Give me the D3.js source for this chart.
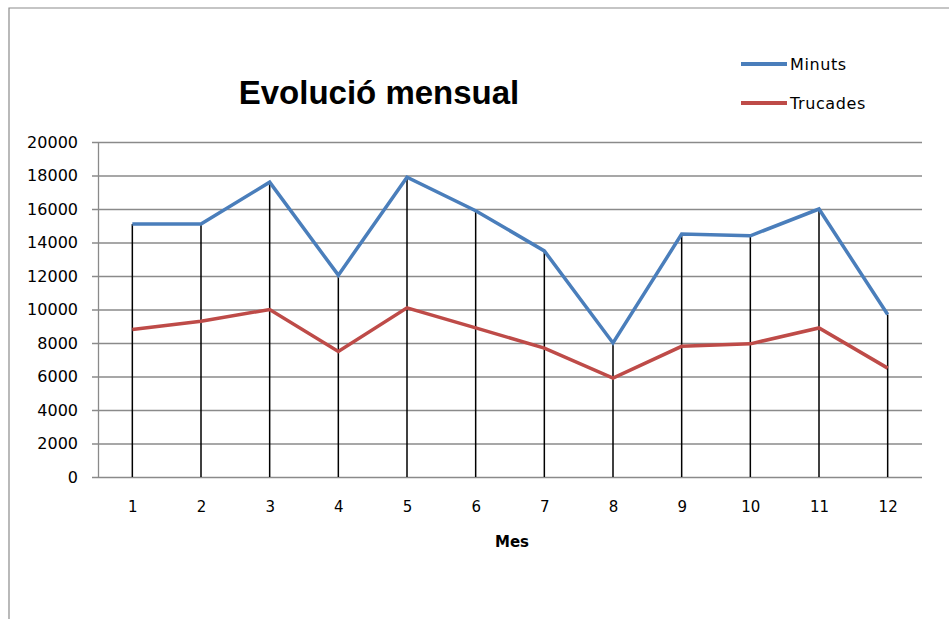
<!DOCTYPE html>
<html>
<head>
<meta charset="utf-8">
<script src="https://cdn.jsdelivr.net/npm/d3@7"></script>
<style>
  body { margin: 0; background: #fff; }
  svg { display: block; }
</style>
</head>
<body>
<div id="chart"></div>
<script>
// --- data ---
const months = [1, 2, 3, 4, 5, 6, 7, 8, 9, 10, 11, 12];
const minuts = [15100, 15100, 17600, 12050, 17900, 15900, 13500, 8000, 14500, 14400, 16000, 9700];
const trucades = [8800, 9300, 10000, 7500, 10100, 8900, 7700, 5900, 7800, 7950, 8900, 6500];
const yTicks = [0, 2000, 4000, 6000, 8000, 10000, 12000, 14000, 16000, 18000, 20000];

const series = [
    { name: "Minuts", values: minuts, color: "#4a7ebb" },
    { name: "Trucades", values: trucades, color: "#be4b48" }
];

const W = 949, H = 619;
const plot = { left: 98, right: 922, top: 142, bottom: 477 };

const svg = d3.select("#chart").append("svg")
    .attr("width", W)
    .attr("height", H);

// chart frame (only top and left edges visible)
svg.append("path")
    .attr("d", `M9,${H} L9,8 L${W},8`)
    .attr("fill", "none")
    .attr("stroke", "#8c8c8c")
    .attr("stroke-width", 1.2);

const x = d3.scalePoint()
    .domain(months)
    .range([plot.left, plot.right])
    .padding(0.5);

const y = d3.scaleLinear()
    .domain([0, 20000])
    .range([plot.bottom, plot.top]);

// Y axis + gridlines
const gY = svg.append("g")
    .attr("transform", `translate(${plot.left},0)`)
    .call(d3.axisLeft(y).tickValues(yTicks).tickFormat(d3.format("d"))
        .tickSize(6).tickPadding(14).tickSizeOuter(0));

gY.selectAll(".tick line")
    .attr("x1", -6)
    .attr("x2", plot.right - plot.left)
    .attr("stroke", "#8a8a8a")
    .attr("stroke-width", 1.3);
gY.select(".domain").attr("stroke", "#8a8a8a").attr("stroke-width", 1.3);
gY.selectAll(".tick text")
    .attr("fill", "#000")
    .style("font-family", "'DejaVu Sans', Verdana, sans-serif")
    .style("font-size", "16px");

// X axis
const gX = svg.append("g")
    .attr("transform", `translate(0,${plot.bottom})`)
    .call(d3.axisBottom(x).tickSize(0).tickPadding(24).tickSizeOuter(0));
gX.select(".domain").remove();
gX.selectAll(".tick text")
    .attr("fill", "#000")
    .style("font-family", "'DejaVu Sans', Verdana, sans-serif")
    .style("font-size", "15px");

// drop lines
svg.append("g")
    .selectAll("line")
    .data(months)
    .join("line")
    .attr("x1", d => x(d))
    .attr("x2", d => x(d))
    .attr("y1", (d, i) => y(Math.max(minuts[i], trucades[i])))
    .attr("y2", y(0))
    .attr("stroke", "#000")
    .attr("stroke-width", 1.5);

// series lines
const line = d3.line()
    .x((d, i) => x(months[i]))
    .y(d => y(d));

svg.append("g")
    .selectAll("path")
    .data(series)
    .join("path")
    .attr("d", d => line(d.values))
    .attr("fill", "none")
    .attr("stroke", d => d.color)
    .attr("stroke-width", 3.5)
    .attr("stroke-linejoin", "miter");

// title
svg.append("text")
    .attr("x", 379)
    .attr("y", 104)
    .attr("text-anchor", "middle")
    .style("font-family", "'Liberation Sans', Arial, sans-serif")
    .style("font-weight", "bold")
    .style("font-size", "33px")
    .text("Evolució mensual");

// axis title
svg.append("text")
    .attr("x", 512)
    .attr("y", 547)
    .attr("text-anchor", "middle")
    .style("font-family", "'DejaVu Sans', Verdana, sans-serif")
    .style("font-weight", "bold")
    .style("font-size", "15px")
    .text("Mes");

// legend
const legend = svg.append("g")
    .selectAll("g")
    .data(series)
    .join("g")
    .attr("transform", (d, i) => `translate(741,${64 + i * 39})`);

legend.append("line")
    .attr("x1", 0).attr("x2", 46)
    .attr("stroke", d => d.color)
    .attr("stroke-width", 4);

legend.append("text")
    .attr("x", 49)
    .attr("y", 6)
    .style("font-family", "'DejaVu Sans', Verdana, sans-serif")
    .style("font-size", "16px")
    .style("letter-spacing", "0.6px")
    .text(d => d.name);
</script>
</body>
</html>
